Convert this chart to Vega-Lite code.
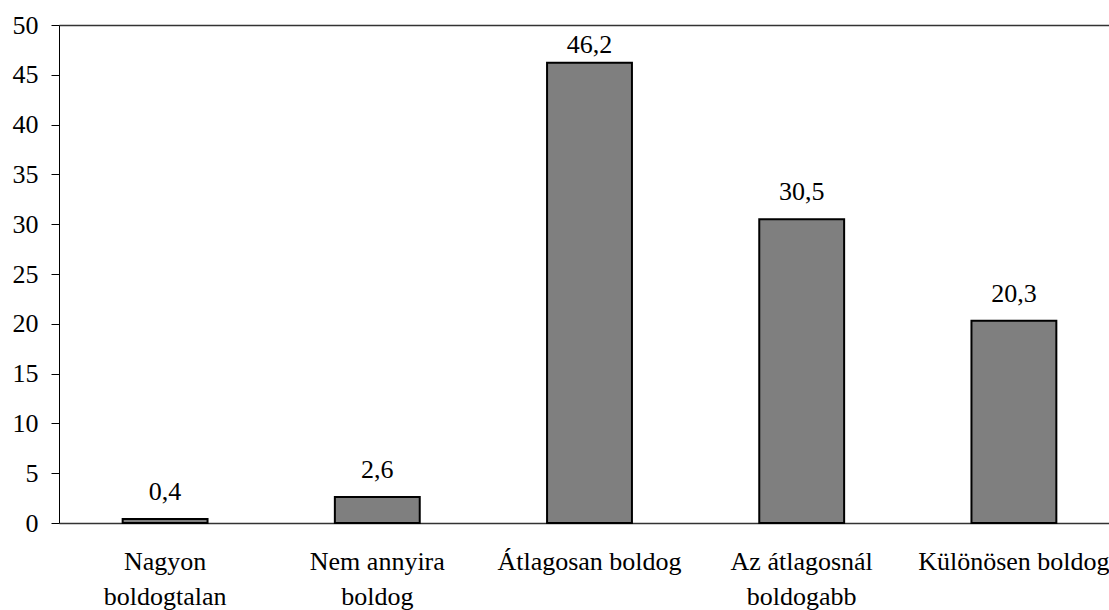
{
  "$schema": "https://vega.github.io/schema/vega-lite/v6.json",
  "width": 1061,
  "height": 498,
  "autosize": {"type": "none"},
  "padding": {"left": 59, "top": 25, "right": 0, "bottom": 100},
  "background": "white",
  "config": {
    "view": {"stroke": null},
    "font": "Liberation Serif",
    "locale": {"number": {"decimal": ",", "thousands": " ", "grouping": [3], "currency": ["", ""]}}
  },
  "data": {
    "values": [
      {"cat": "Nagyon boldogtalan", "v": 0.4},
      {"cat": "Nem annyira boldog", "v": 2.6},
      {"cat": "Átlagosan boldog", "v": 46.2},
      {"cat": "Az átlagosnál boldogabb", "v": 30.5},
      {"cat": "Különösen boldog", "v": 20.3}
    ]
  },
  "encoding": {
    "x": {
      "field": "cat", "type": "nominal", "sort": null,
      "scale": {"paddingInner": 0.6, "paddingOuter": 0.3},
      "axis": {
        "title": null, "labelAngle": 0, "ticks": false,
        "domainColor": "#333333", "domainWidth": 1.5,
        "labelFont": "Liberation Serif", "labelFontSize": 26, "labelColor": "black",
        "labelPadding": 46, "labelLineHeight": 35, "labelBaseline": "alphabetic",
        "labelLimit": 500, "labelOverlap": false,
        "labelExpr": "datum.value == 'Nagyon boldogtalan' ? ['Nagyon', 'boldogtalan'] : datum.value == 'Nem annyira boldog' ? ['Nem annyira', 'boldog'] : datum.value == 'Az átlagosnál boldogabb' ? ['Az átlagosnál', 'boldogabb'] : datum.value"
      }
    },
    "y": {
      "field": "v", "type": "quantitative",
      "scale": {"domain": [0, 50], "nice": false},
      "axis": {
        "title": null, "values": [0, 5, 10, 15, 20, 25, 30, 35, 40, 45, 50],
        "tickSize": 8, "tickColor": "black", "domainColor": "black",
        "labelFont": "Liberation Serif", "labelFontSize": 26, "labelColor": "black",
        "labelPadding": 13,
        "grid": true, "gridColor": "#333333", "gridWidth": 1.5,
        "gridOpacity": {"condition": {"test": "datum.value == 50", "value": 1}, "value": 0}
      }
    }
  },
  "layer": [
    {"mark": {"type": "bar", "fill": "#7f7f7f", "stroke": "black", "strokeWidth": 2}},
    {
      "transform": [{"filter": "datum.v < 40"}],
      "mark": {"type": "text", "baseline": "alphabetic", "dy": -19, "fontSize": 26, "font": "Liberation Serif", "color": "black"},
      "encoding": {"text": {"field": "v", "type": "quantitative", "format": ".1f"}}
    },
    {
      "transform": [{"filter": "datum.v >= 40"}],
      "mark": {"type": "text", "baseline": "alphabetic", "dy": -10, "fontSize": 26, "font": "Liberation Serif", "color": "black"},
      "encoding": {"text": {"field": "v", "type": "quantitative", "format": ".1f"}}
    }
  ]
}
